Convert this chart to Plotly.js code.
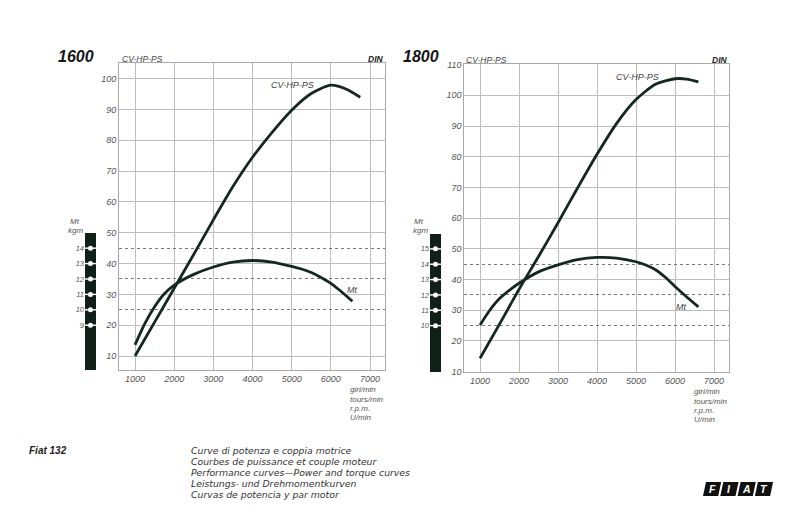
<!DOCTYPE html>
<html>
<head>
<meta charset="utf-8">
<script src="https://cdn.plot.ly/plotly-3.0.1.min.js"></script>
<style>html,body{margin:0;padding:0;background:#fff;}#chart{width:800px;height:526px;}</style>
</head>
<body>
<div id="chart"></div>
<script>
// ---- data ----
const rpmPower1600 = [1000,1500,2000,2500,3000,3500,4000,4500,5000,5500,6000,6400,6750];
const power1600    = [10,21,32,43,54.2,65,74.5,82.6,89.8,95.2,97.9,96.6,94];
const rpmTorque1600 = [1000,1250,1500,1750,2000,2500,3000,3500,4000,4500,5000,5250,5500,5750,6000,6250,6550];
const torque1600    = [7.72,9.1,10.2,11.04,11.6,12.3,12.78,13.1,13.2,13.1,12.82,12.65,12.42,12.1,11.72,11.22,10.55]; // kgm

const rpmPower1800 = [1000,1500,2000,2500,3000,3500,4000,4500,5000,5500,6000,6300,6600];
const power1800    = [14.4,25.5,36.8,47.5,58.5,69.8,80.8,90.8,98.6,103.6,105.4,105.3,104.4];
const rpmTorque1800 = [1000,1250,1500,1750,2000,2500,3000,3500,4000,4500,5000,5250,5500,5750,6000,6250,6600];
const torque1800    = [10.04,11.0,11.76,12.3,12.76,13.5,13.96,14.3,14.44,14.4,14.16,13.95,13.64,13.15,12.55,11.98,11.22]; // kgm

const rpmTicks = [1000,2000,3000,4000,5000,6000,7000];
const kgmScale1600 = [9,10,11,12,13,14];
const kgmScale1800 = [10,11,12,13,14,15];
const kgmDotted = [10,12,14];
const rpmUnits = ["giri/min","tours/min","r.p.m.","U/min"];
const captionLines = [
  "Curve di potenza e coppia motrice",
  "Courbes de puissance et couple moteur",
  "Performance curves\u2014Power and torque curves",
  "Leistungs- und Drehmomentkurven",
  "Curvas de potencia y par motor"
];

// ---- layout helpers ----
const W = 800, H = 526;
const px = v => v / W;
const py = v => 1 - v / H;
const FONT = "Liberation Sans, Arial, sans-serif";
const INK = "#13281f";
const GRID = "#bdbdbd";

const hpRangeL = [5.46, 105.1];
const hpRangeR = [9.9, 110.2];
const toKgm = r => r.map(v => (v + 25) / 5);
const kgmRangeL = toKgm(hpRangeL);
const kgmRangeR = toKgm(hpRangeR);
const rpmRangeL = [591, 7383];
const rpmRangeR = [597, 7392];

const domXL = [px(119), px(385)], domYL = [py(370), py(63)];
const domXR = [px(464.3), px(729.3)], domYR = [py(372), py(64)];
const barXL = [px(85), px(96)], barXR = [px(430), px(441)];
const barTopL = 15, barTopR = 16;

const tickFont = {family: FONT, size: 9, color: "#555", style: "italic"};

function mainX(dom, range, anchor) {
  return {domain: dom, range: range, anchor: anchor, tickvals: rpmTicks,
    showgrid: true, gridcolor: GRID, gridwidth: 1, zeroline: false,
    showline: true, mirror: true, linecolor: "#a8a8a8", linewidth: 1,
    ticks: "", tickfont: tickFont, fixedrange: true};
}
function mainY(dom, range, anchor) {
  return {domain: dom, range: range, anchor: anchor, dtick: 10, tick0: 0,
    showgrid: true, gridcolor: GRID, gridwidth: 1, zeroline: false,
    showline: true, mirror: true, linecolor: "#a8a8a8", linewidth: 1,
    ticks: "", tickfont: tickFont, fixedrange: true};
}
function torqueY(over, range, anchor) {
  return {overlaying: over, anchor: anchor, range: range, tickvals: kgmDotted,
    showgrid: true, gridcolor: "#777", gridwidth: 1, griddash: "dot",
    showticklabels: false, ticks: "", zeroline: false, showline: false, fixedrange: true};
}
function barX(dom, anchor) {
  return {domain: dom, anchor: anchor, range: [-0.5, 0.5], visible: false, fixedrange: true};
}
function barY(dom, range, anchor, vals) {
  return {domain: dom, anchor: anchor, range: range, tickvals: vals,
    showgrid: false, zeroline: false, showline: false, ticks: "",
    tickfont: {family: FONT, size: 7.5, color: "#555", style: "italic"}, fixedrange: true};
}

const curve = (x, y, xa, ya) => ({x: x, y: y, xaxis: xa, yaxis: ya, type: "scatter", mode: "lines",
  line: {color: INK, width: 2.8, shape: "spline", smoothing: 0.7}, hoverinfo: "skip"});

function scaleTraces(vals, xa, ya, range, top) {
  const zeros = vals.map(() => 0);
  return [
    {x: [0], y: [top - range[0]], base: [range[0]], type: "bar", width: [1], xaxis: xa, yaxis: ya,
     marker: {color: "#0f2019", line: {width: 0}}, hoverinfo: "skip"},
    {x: zeros, y: vals, xaxis: xa, yaxis: ya, type: "scatter", mode: "markers",
     marker: {symbol: "line-ew", size: 10, line: {color: "#fff", width: 1.4}}, hoverinfo: "skip"},
    {x: zeros, y: vals, xaxis: xa, yaxis: ya, type: "scatter", mode: "markers",
     marker: {symbol: "circle", size: 5, color: "#fff", line: {width: 0}}, hoverinfo: "skip"}
  ];
}

const data = [
  curve(rpmPower1600, power1600, "x", "y"),
  curve(rpmTorque1600, torque1600, "x", "y3"),
  curve(rpmPower1800, power1800, "x2", "y2"),
  curve(rpmTorque1800, torque1800, "x2", "y4"),
  ...scaleTraces(kgmScale1600, "x3", "y5", kgmRangeL, barTopL),
  ...scaleTraces(kgmScale1800, "x4", "y6", kgmRangeR, barTopR)
];

// ---- annotations ----
function txt(text, x, y, opt) {
  opt = opt || {};
  return {text: text, x: px(x), y: py(y), xref: "paper", yref: "paper", showarrow: false,
    xanchor: opt.xa || "left", yanchor: "middle", borderpad: 0,
    font: {family: opt.family || FONT, size: opt.size || 9, color: opt.color || "#444",
           weight: opt.bold ? "bold" : "normal", style: "italic"}};
}
const ann = [
  txt("1600", 57, 56, {size: 16, bold: true, color: "#161616"}),
  txt("1800", 402, 57, {size: 16, bold: true, color: "#161616"}),
  txt("CV-HP-PS", 121, 59, {size: 8.5}),
  txt("CV-HP-PS", 465, 60, {size: 8.5}),
  txt("DIN", 385, 59, {size: 8.5, bold: true, color: "#222", xa: "right"}),
  txt("DIN", 729, 60, {size: 8.5, bold: true, color: "#222", xa: "right"}),
  txt("CV-HP-PS", 292, 85, {size: 9, xa: "center"}),
  txt("CV-HP-PS", 637, 77, {size: 9, xa: "center"}),
  txt("Mt", 352, 290, {size: 9, xa: "center"}),
  txt("Mt", 681, 307, {size: 9, xa: "center"}),
  txt("Mt", 75, 222, {size: 8, xa: "center", color: "#555"}),
  txt("kgm", 75, 231, {size: 8, xa: "center", color: "#555"}),
  txt("Mt", 419, 222, {size: 8, xa: "center", color: "#555"}),
  txt("kgm", 420, 231, {size: 8, xa: "center", color: "#555"}),
  txt("Fiat 132", 28, 450, {size: 10, bold: true, color: "#222"})
];
const unitYL = [389, 399, 408, 417], unitYR = [391, 401, 410, 419];
rpmUnits.forEach((u, i) => {
  ann.push(txt(u, 349, unitYL[i], {size: 8, color: "#555"}));
  ann.push(txt(u, 693, unitYR[i], {size: 8, color: "#555"}));
});
captionLines.forEach((c, i) => ann.push(txt(c, 190, 450 + i * 11,
  {size: 9.3, color: "#333", family: "DejaVu Sans, Liberation Sans, sans-serif"})));

// FIAT logo
const shapes = [];
"FIAT".split("").forEach((ch, i) => {
  const x0 = 703 + i * 17.3;
  shapes.push({type: "path", xref: "paper", yref: "paper", line: {width: 0}, fillcolor: "#111",
    path: `M ${px(x0)},${py(496)} L ${px(x0 + 15.2)},${py(496)} L ${px(x0 + 18.2)},${py(482)} L ${px(x0 + 3)},${py(482)} Z`});
  ann.push({text: ch, x: px(x0 + 9.1), y: py(489), xref: "paper", yref: "paper", showarrow: false,
    xanchor: "center", yanchor: "middle",
    font: {family: FONT, size: 10.5, color: "#fff", weight: "bold", style: "italic"}});
});

const layout = {
  width: W, height: H, margin: {l: 0, r: 0, t: 0, b: 0, pad: 0},
  paper_bgcolor: "#fff", plot_bgcolor: "rgba(0,0,0,0)", showlegend: false,
  font: {family: FONT},
  xaxis: mainX(domXL, rpmRangeL, "y"),
  yaxis: mainY(domYL, hpRangeL, "x"),
  xaxis2: mainX(domXR, rpmRangeR, "y2"),
  yaxis2: mainY(domYR, hpRangeR, "x2"),
  yaxis3: torqueY("y", kgmRangeL, "x"),
  yaxis4: torqueY("y2", kgmRangeR, "x2"),
  xaxis3: barX(barXL, "y5"),
  yaxis5: barY(domYL, kgmRangeL, "x3", kgmScale1600),
  xaxis4: barX(barXR, "y6"),
  yaxis6: barY(domYR, kgmRangeR, "x4", kgmScale1800),
  annotations: ann,
  shapes: shapes,
  bargap: 0
};

Plotly.newPlot("chart", data, layout, {displayModeBar: false, staticPlot: true});
</script>
</body>
</html>
